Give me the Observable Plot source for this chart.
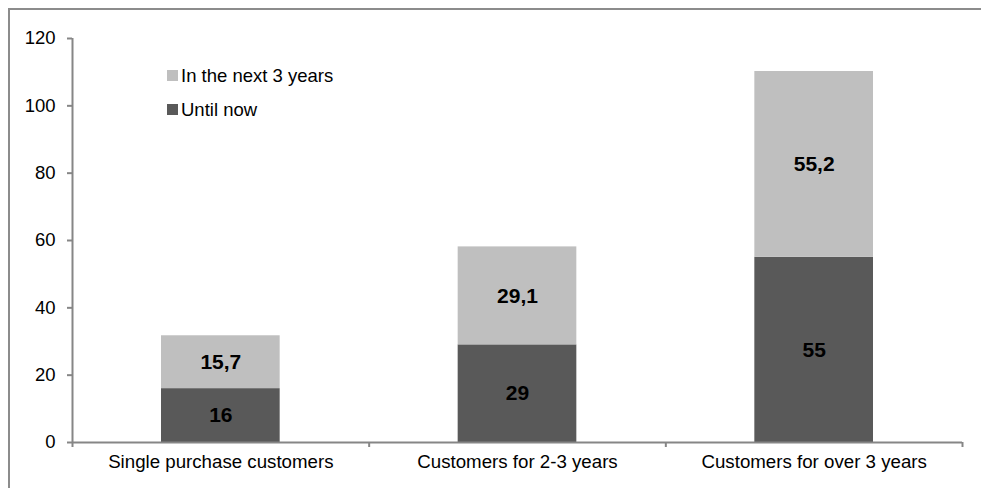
<!DOCTYPE html>
<html>
<head>
<meta charset="utf-8">
<script src="https://cdn.jsdelivr.net/npm/d3@7"></script>
<script src="https://cdn.jsdelivr.net/npm/@observablehq/plot@0.6"></script>
<style>
  html, body { margin: 0; padding: 0; background: #fff; }
  #wrap { position: relative; width: 981px; height: 488px; overflow: hidden; font-family: "Liberation Sans", Arial, sans-serif; }
  #border { position: absolute; left: 8px; top: 8px; width: 2000px; height: 2000px; border-left: 2px solid #8c8c8c; border-top: 2px solid #8c8c8c; box-sizing: border-box; }
  #chart { position: absolute; left: 0; top: 0; }
  #legend { position: absolute; left: 167px; top: 59px; font-size: 18.5px; color: #000; line-height: 33.5px; }
  #legend .item { display: flex; align-items: center; }
  #legend .sw { width: 11px; height: 11px; margin-right: 3px; }
</style>
</head>
<body>
<div id="wrap">
  <div id="border"></div>
  <div id="chart"></div>
  <div id="legend"></div>
</div>
<script>
const categories = ["Single purchase customers", "Customers for 2-3 years", "Customers for over 3 years"];
const untilNow = [16, 29, 55];
const nextYears = [15.7, 29.1, 55.2];
const seriesNames = ["Until now", "In the next 3 years"];
const seriesColors = ["#595959", "#bfbfbf"];
const yTicks = [0, 20, 40, 60, 80, 100, 120];

const rows = [];
categories.forEach((c, i) => {
  const a = untilNow[i], b = nextYears[i];
  rows.push({i, cat: c, series: seriesNames[0], value: a, y1: 0, y2: a});
  rows.push({i, cat: c, series: seriesNames[1], value: b, y1: a, y2: a + b});
});
const fmt = v => String(v).replace(".", ",");
const axisColor = "#868686";

const chart = Plot.plot({
  width: 981,
  height: 488,
  marginLeft: 72,
  marginRight: 19,
  marginTop: 38,
  marginBottom: 46,
  style: {fontFamily: "'Liberation Sans', Arial, sans-serif", background: "transparent", color: "#000"},
  x: {type: "linear", domain: [-0.5, categories.length - 0.5]},
  y: {domain: [0, 120]},
  color: {domain: seriesNames, range: seriesColors},
  marks: [
    Plot.rect(rows, {x1: d => d.i - 0.2, x2: d => d.i + 0.2, y1: "y1", y2: "y2", fill: "series"}),
    Plot.text(rows, {x: "i", y: d => (d.y1 + d.y2) / 2, text: d => fmt(d.value), fontSize: 21, fontWeight: "bold", fill: "#000"}),
    Plot.ruleY([0], {stroke: axisColor, strokeWidth: 2}),
    Plot.ruleX([-0.5], {stroke: axisColor, strokeWidth: 2}),
    Plot.axisY({ticks: yTicks, tickSize: 5, tickPadding: 12, fontSize: 18.5, stroke: axisColor, strokeWidth: 2, tickFormat: d => d, label: null}),
    Plot.axisX({ticks: d3.range(categories.length + 1).map(k => k - 0.5), tickSize: 5, stroke: axisColor, strokeWidth: 2, tickFormat: () => "", label: null}),
    Plot.axisX({ticks: d3.range(categories.length), tickSize: 0, tickPadding: 12, fontSize: 18.7, tickFormat: k => categories[k], label: null})
  ]
});
document.getElementById("chart").appendChild(chart);

const legend = document.getElementById("legend");
[1, 0].forEach(k => {
  const item = document.createElement("div");
  item.className = "item";
  const sw = document.createElement("span");
  sw.className = "sw";
  sw.style.background = seriesColors[k];
  const t = document.createElement("span");
  t.textContent = seriesNames[k];
  item.appendChild(sw); item.appendChild(t);
  legend.appendChild(item);
});
</script>
</body>
</html>
